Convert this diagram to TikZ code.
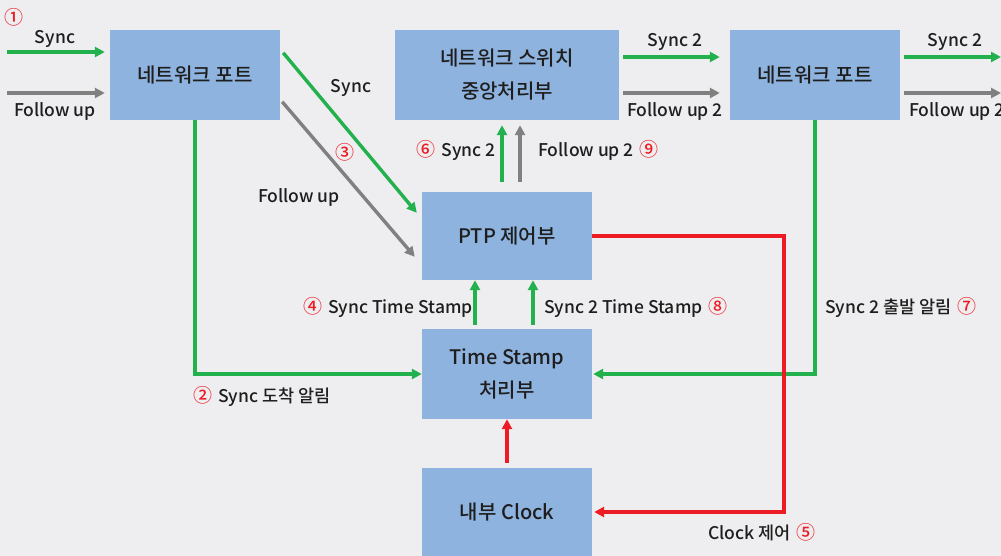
\documentclass[tikz,border=0pt]{standalone}
\usepackage{fontspec}
\setmainfont{Noto Sans CJK KR}[UprightFont=* Medium]
\usetikzlibrary{arrows.meta,calc}
\definecolor{BackClr}{RGB}{238,238,240}
\definecolor{BoxClr}{RGB}{142,179,222}
\definecolor{SyncClr}{RGB}{34,177,76}
\definecolor{FollowClr}{RGB}{128,128,128}
\definecolor{ClockClr}{RGB}{237,28,36}
\definecolor{TextClr}{RGB}{30,30,30}
\newcommand{\stepNo}[1]{{\fontsize{19}{19}\selectfont\textcolor{ClockClr}{#1}}}

\begin{document}
\begin{tikzpicture}[x=1pt,y=-1pt,
  blk/.style={fill=BoxClr,minimum width=170pt,minimum height=90pt,inner sep=0pt,
    align=center,font=\fontsize{20}{33}\selectfont,text=TextClr},
  lbl/.style={font=\fontsize{17.5}{20}\selectfont,text=TextClr,inner sep=0pt,
    text height=16pt,text depth=2pt},
  arr/.style={line width=3.4pt,-{Triangle[length=10pt,width=10pt]}},
  syncln/.style={arr,draw=SyncClr},
  followln/.style={arr,draw=FollowClr},
  clockln/.style={arr,draw=ClockClr}]

\fill[BackClr] (0,0) rectangle (1001,556);
\useasboundingbox (0,0) rectangle (1001,556);

% blocks
\node[blk] (portA) at (195,75) {네트워크 포트};
\node[blk,minimum width=224pt] (switch) at (507,75) {네트워크 스위치\\중앙처리부};
\node[blk] (portB) at (815,75) {네트워크 포트};
\node[blk,minimum height=88pt] (ptp) at (507,236) {PTP 제어부};
\node[blk] (stamp) at (507,374) {Time Stamp\\처리부};
\node[blk,minimum height=88pt] (clock) at (507,512) {내부 Clock};

\coordinate (syncIn) at (7,52);
\coordinate (followIn) at (7,93);
\coordinate (syncOut) at (1001,57);
\coordinate (followOut) at (1001,93);
\coordinate (bend) at (784,236);

% messages in and out
\draw[syncln,shorten >=5pt] (syncIn) -- (syncIn -| portA.west);
\draw[followln,shorten >=5pt] (followIn) -- (followIn -| portA.west);
\draw[syncln] ($(portA.north east)+(3,23)$) -- ($(ptp.north west)+(-5,21)$);
\draw[followln] ($(portA.north east)+(2,72)$) -- ($(ptp.north west)+(-7,65)$);
\draw[syncln,shorten <=10pt,shorten >=5pt] ($(ptp.north)+(-5,0)$) -- ($(switch.south)+(-5,0)$);
\draw[followln,shorten <=10pt,shorten >=5pt] ($(ptp.north)+(13,0)$) -- ($(switch.south)+(13,0)$);
\draw[syncln,shorten <=4pt,shorten >=10pt] ($(switch.east)+(0,-18)$) -- ($(portB.west)+(0,-18)$);
\draw[followln,shorten <=4pt,shorten >=10pt] ($(switch.east)+(0,18)$) -- ($(portB.west)+(0,18)$);
\draw[syncln,shorten <=4pt] ($(portB.east)+(0,-18)$) -- (syncOut);
\draw[followln,shorten <=4pt] ($(portB.east)+(0,18)$) -- (followOut);

% time stamps
\draw[syncln] (portA.south) |- (stamp.west);
\draw[syncln,shorten >=1pt] (portB.south) |- (stamp.east);
\draw[syncln,shorten <=4pt] ($(stamp.north)+(-32,0)$) -- ($(ptp.south)+(-32,0)$);
\draw[syncln,shorten <=4pt] ($(stamp.north)+(26,0)$) -- ($(ptp.south)+(26,0)$);

% clock
\draw[clockln,shorten >=2pt] (ptp.east) -- (bend) |- (clock.east);
\draw[clockln,shorten <=5pt] (clock.north) -- (stamp.south);

% labels
\node[lbl] (stepA) at (14,18) {\stepNo{①}};
\node[lbl] (syncA) at (55,37) {Sync};
\node[lbl] (followA) at (55,110) {Follow up};
\node[lbl] (syncB) at (351,86) {Sync};
\node[lbl] (stepC) at (345,153) {\stepNo{③}};
\node[lbl] (followB) at (299,196) {Follow up};
\node[lbl,anchor=east] (syncC) at (496,150) {\stepNo{⑥}\hspace{6pt}Sync 2};
\node[lbl,anchor=west] (followC) at (538,150) {Follow up 2\hspace{6pt}\stepNo{⑨}};
\node[lbl] (syncD) at (675,40) {Sync 2};
\node[lbl] (followD) at (675,110) {Follow up 2};
\node[lbl] (syncE) at (955,40) {Sync 2};
\node[lbl,anchor=west] (followE) at (909,110) {Follow up 2};
\node[lbl,anchor=west] (stampA) at (303,306) {\stepNo{④}\hspace{6pt}Sync Time Stamp};
\node[lbl,anchor=west] (stampB) at (544,306) {Sync 2 Time Stamp\hspace{6pt}\stepNo{⑧}};
\node[lbl,anchor=west] (leave) at (825,306) {Sync 2 출발 알림\hspace{6pt}\stepNo{⑦}};
\node[lbl,anchor=west] (arrive) at (193,395) {\stepNo{②}\hspace{6pt}Sync 도착 알림};
\node[lbl,anchor=west] (clkctl) at (708,532) {Clock 제어\hspace{6pt}\stepNo{⑤}};

\end{tikzpicture}
\end{document}
